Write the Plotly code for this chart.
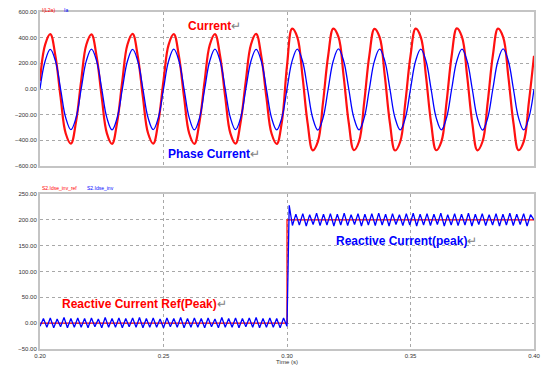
import numpy as np
import plotly.graph_objects as go

W, H = 542, 370

# ---------------- data ----------------
# top panel: sampled every 1/8 of a 60 Hz period from 0.20 s to 0.40 s
t_top = np.linspace(0.2, 0.4, 97)
i_l2a = [
    64, 346, 428, 256, -64, -347, -426, -256,
    64, 345, 426, 254, -65, -346, -428, -257,
    63, 347, 429, 256, -64, -345, -425, -255,
    65, 346, 427, 255, -64, -347, -427, -256,
    64, 345, 428, 257, -63, -346, -426, -255,
    64, 347, 429, 256, -65, -347, -428, -257,
    180, 470, 405, 104, -264, -478, -410, -105,
    259, 471, 406, 103, -263, -476, -409, -104,
    260, 469, 404, 104, -265, -479, -411, -105,
    258, 470, 405, 103, -263, -477, -410, -104,
    259, 472, 406, 104, -264, -478, -409, -105,
    260, 470, 405, 103, -263, -477, -410, -104,
    259]
ia = [
    0, 218, 309, 219, 0, -224, -317, -225,
    0, 219, 311, 220, 0, -225, -318, -224,
    0, 218, 308, 218, 0, -224, -316, -223,
    0, 219, 310, 219, 0, -225, -319, -225,
    0, 220, 311, 219, 0, -224, -317, -224,
    0, 218, 309, 218, 0, -225, -318, -225,
    0, 219, 311, 220, 0, -226, -320, -226,
    0, 220, 312, 220, 0, -225, -318, -225,
    0, 219, 310, 219, 0, -226, -319, -226,
    0, 220, 311, 220, 0, -225, -318, -225,
    0, 219, 310, 219, 0, -226, -320, -226,
    0, 220, 312, 220, 0, -225, -319, -225,
    0]

# bottom panel
t_ref = [0.2, 0.3, 0.3, 0.4]
idse_ref = [0, 0, 200, 200]

t_pre = np.linspace(0.2, 0.3, 73)          # ripple turning points before the step
idse_pre = [
    -6, 9, -8, 10, -9, 8, -7, 11, -9, 9,
    -8, 10, -8, 9, -9, 10, -7, 8, -9, 11,
    -8, 9, -8, 10, -9, 9, -7, 10, -8, 11,
    -9, 9, -8, 10, -8, 8, -9, 10, -7, 9,
    -8, 11, -9, 9, -8, 10, -8, 9, -9, 10,
    -7, 8, -9, 11, -8, 9, -8, 10, -9, 9,
    -7, 10, -8, 11, -9, 9, -8, 10, -8, 9,
    -9, 10, -6]
t_step = [0.3003, 0.3009]
idse_step = [80, 228]
t_post = np.linspace(0.3022, 0.4, 71)
idse_post = [
    189, 211, 190, 212, 188, 210, 191, 213, 189, 211,
    190, 212, 188, 211, 190, 213, 189, 210, 191, 212,
    188, 211, 190, 212, 189, 213, 190, 211, 188, 212,
    191, 210, 189, 212, 190, 213, 188, 211, 190, 212,
    189, 211, 191, 213, 188, 210, 190, 212, 189, 211,
    190, 213, 188, 211, 191, 212, 189, 210, 190, 212,
    188, 211, 190, 213, 189, 211, 191, 212, 188, 210,
    200]

t_bot = list(t_pre) + t_step + list(t_post)
idse = idse_pre + idse_step + idse_post

x_ticks = [0.20, 0.25, 0.30, 0.35, 0.40]
x_ticklabels = ["0.20", "0.25", "0.30", "0.35", "0.40"]

# ---------------- figure ----------------
fig = go.Figure()
fig.add_trace(go.Scatter(x=t_top, y=i_l2a, mode="lines", name="I(L2a)",
                         line=dict(color="#ff1010", width=2.2, shape="spline", smoothing=1.1),
                         xaxis="x", yaxis="y"))
fig.add_trace(go.Scatter(x=t_top, y=ia, mode="lines", name="Ia",
                         line=dict(color="#0000ff", width=1.3, shape="spline", smoothing=1.1),
                         xaxis="x", yaxis="y"))
fig.add_trace(go.Scatter(x=t_ref, y=idse_ref, mode="lines", name="S2.Idse_inv_ref",
                         line=dict(color="#ff0000", width=1.2),
                         xaxis="x2", yaxis="y2"))
fig.add_trace(go.Scatter(x=t_bot, y=idse, mode="lines", name="S2.Idse_inv",
                         line=dict(color="#0000ff", width=1.3),
                         xaxis="x2", yaxis="y2"))

xd = [40 / W, 534 / W]
ytop = [1 - 166 / H, 1 - 12 / H]
ybot = [1 - 349 / H, 1 - 194 / H]

frame = dict(showline=True, linecolor="#c4c4c4", linewidth=2, mirror=True,
             showgrid=True, gridcolor="#a8a8a8", griddash="dot", gridwidth=1,
             zeroline=False, ticks="", automargin=False,
             tickfont=dict(size=6, color="#333333", family="Liberation Sans"))

fig.update_layout(
    width=W, height=H,
    margin=dict(l=0, r=0, t=0, b=0, autoexpand=False),
    paper_bgcolor="white", plot_bgcolor="white",
    showlegend=False,
    font=dict(family="Liberation Sans"),
    xaxis=dict(domain=xd, range=[0.2, 0.4], anchor="y", tickvals=x_ticks,
               showticklabels=False, **frame),
    yaxis=dict(domain=ytop, range=[-600, 600], anchor="x", dtick=200,
               tickformat=".2f", **frame),
    xaxis2=dict(domain=xd, range=[0.2, 0.4], anchor="y2", tickvals=x_ticks,
                ticktext=x_ticklabels, title=dict(text="Time (s)", standoff=1,
                font=dict(size=6, color="#333333")), **frame),
    yaxis2=dict(domain=ybot, range=[-50, 250], anchor="x2", dtick=50,
                tickformat=".2f", **frame),
)

arrow = "<span style='color:#808080;font-weight:normal'>↵</span>"
ann = [
    dict(text="<b>Current</b>" + arrow, x=0.2706, y=490, xref="x", yref="y",
         font=dict(size=12, color="#ff0000", family="Liberation Sans")),
    dict(text="<b>Phase Current</b>" + arrow, x=0.2706, y=-505, xref="x", yref="y",
         font=dict(size=12, color="#0000ff", family="Liberation Sans")),
    dict(text="<b>Reactive Current(peak)</b>" + arrow, x=0.3485, y=160, xref="x2", yref="y2",
         font=dict(size=12, color="#0000ff", family="Liberation Sans")),
    dict(text="<b>Reactive Current Ref(Peak)</b>" + arrow, x=0.2422, y=38, xref="x2", yref="y2",
         font=dict(size=12, color="#ff0000", family="Liberation Sans")),
    dict(text="I(L2a)", x=40 / W, y=1 - 5 / H, xref="paper", yref="paper", xanchor="left",
         font=dict(size=5, color="#ff0000")),
    dict(text="Ia", x=62 / W, y=1 - 5 / H, xref="paper", yref="paper", xanchor="left",
         font=dict(size=5, color="#0000ff")),
    dict(text="S2.Idse_inv_ref", x=40 / W, y=1 - 188 / H, xref="paper", yref="paper",
         xanchor="left", font=dict(size=5, color="#ff0000")),
    dict(text="S2.Idse_inv", x=85 / W, y=1 - 188 / H, xref="paper", yref="paper",
         xanchor="left", font=dict(size=5, color="#0000ff")),
]
for a in ann:
    a["showarrow"] = False
fig.update_layout(annotations=ann)

fig.write_html("out.html", config={"displayModeBar": False},
               post_script="document.body.style.margin='0';document.body.style.overflow='hidden';")
